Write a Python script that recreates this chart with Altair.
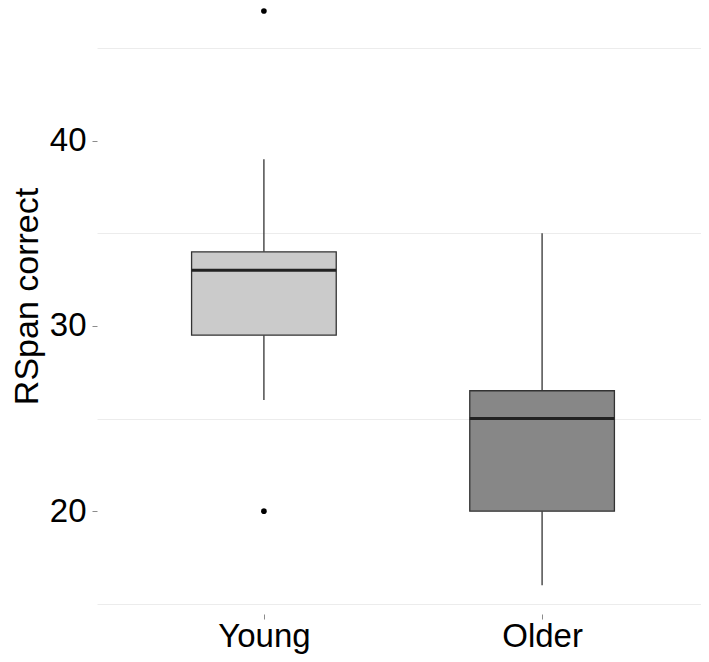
import altair as alt
import pandas as pd

# ---- data ----
groups = ["Young", "Older"]
lower_whisker = [26, 16]
q1 = [29.5, 20]
median = [33, 25]
q3 = [34, 26.5]
upper_whisker = [39, 35]
fill_colors = ["#cbcbcb", "#878787"]

outlier_group = ["Young", "Young"]
outlier_value = [20, 47]

y_ticks = [20, 30, 40]
y_minor = [15, 25, 35, 45]

# ---- tables ----
box_df = pd.DataFrame({
    "group": groups,
    "pos": [i + 1 for i in range(len(groups))],
    "lower": lower_whisker,
    "q1": q1,
    "median": median,
    "q3": q3,
    "upper": upper_whisker,
})
out_df = pd.DataFrame({
    "group": outlier_group,
    "pos": [groups.index(g) + 1 for g in outlier_group],
    "value": outlier_value,
})

FONT = "Liberation Sans"
HALF = 0.26
PLOT_W = 604
PX_PER_UNIT = 612 / 2.2

label_expr = " : ".join(
    [f"datum.value == {i + 1} ? '{g}'" for i, g in enumerate(groups)] + ["''"]
)

x_scale = alt.Scale(domain=[0.4, 0.4 + PLOT_W / PX_PER_UNIT], nice=False, zero=False)
y_scale = alt.Scale(domain=[14.45, 47], nice=False, zero=False)

x_axis = alt.Axis(
    title=None, values=[i + 1 for i in range(len(groups))], labelExpr=label_expr,
    grid=False, domain=False, tickColor="#8c8c8c", tickSize=5, tickWidth=1,
    labelFont=FONT, labelFontSize=33, labelColor="#000000", labelPadding=1,
)
y_axis = alt.Axis(
    title="RSpan correct", values=sorted(y_ticks + y_minor),
    labelExpr="datum.value % 10 === 0 ? datum.label : ''",
    gridColor={"condition": {"test": "datum.value % 10 !== 0", "value": "#ececec"},
               "value": "rgba(0,0,0,0)"},
    tickColor={"condition": {"test": "datum.value % 10 === 0", "value": "#8c8c8c"},
               "value": "rgba(0,0,0,0)"},
    gridWidth=1, domain=False, tickSize=5, tickWidth=1,
    labelFont=FONT, labelFontSize=33, labelColor="#000000", labelPadding=6,
    titleFont=FONT, titleFontSize=34, titleFontWeight="normal", titleColor="#000000",
    titleAngle=-90, titleX=-70, titleY=285, titleAlign="center", titleBaseline="middle",
)


def X(field):
    return alt.X(field, type="quantitative", scale=x_scale, axis=x_axis)


def Y(field):
    return alt.Y(field, type="quantitative", scale=y_scale, axis=y_axis)


base = alt.Chart(box_df).transform_calculate(
    lo=f"datum.pos - {HALF}", hi=f"datum.pos + {HALF}"
)

whisk_lo = base.mark_rule(color="#333333", strokeWidth=1.3).encode(
    x=X("pos"), y=Y("lower"), y2="q1"
)
whisk_hi = base.mark_rule(color="#333333", strokeWidth=1.3).encode(
    x=X("pos"), y=Y("q3"), y2="upper"
)
box = base.mark_rect(stroke="#333333", strokeWidth=1.3).encode(
    x=X("lo"), x2="hi", y=Y("q1"), y2="q3",
    fill=alt.Fill("group:N", scale=alt.Scale(domain=groups, range=fill_colors), legend=None),
)
med = base.mark_rule(color="#222222", strokeWidth=3).encode(
    x=X("lo"), x2="hi", y=Y("median")
)
outl = alt.Chart(out_df).mark_circle(size=32, color="#000000", opacity=1).encode(
    x=X("pos"), y=Y("value")
)

chart = alt.layer(whisk_lo, whisk_hi, box, med, outl).properties(
    width=PLOT_W, height=603,
    autosize=alt.AutoSizeParams(type="none"),
    padding={"left": 89, "top": 3, "right": 0, "bottom": 40},
    background="#ffffff",
).configure_view(stroke=None)

chart.save("out.html", embed_options={"renderer": "svg", "actions": False})
